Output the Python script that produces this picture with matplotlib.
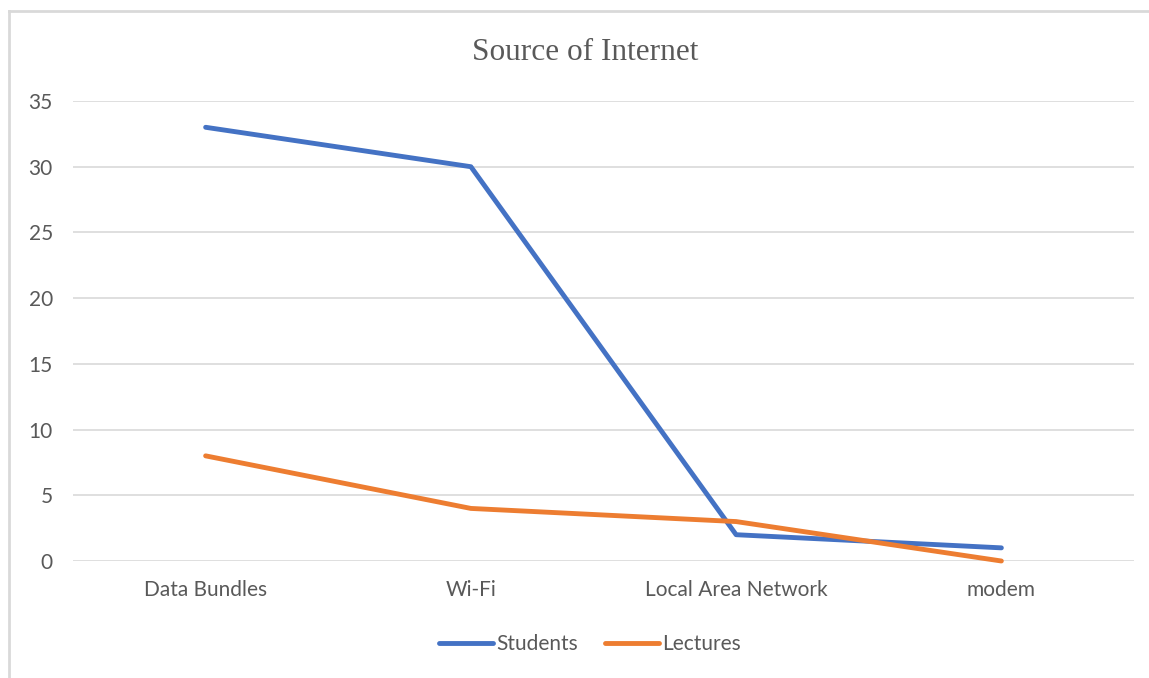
import matplotlib.pyplot as plt
from matplotlib.lines import Line2D

categories = ["Data Bundles", "Wi-Fi", "Local Area Network", "modem"]
students = [33, 30, 2, 1]
lectures = [8, 4, 3, 0]
y_ticks = [0, 5, 10, 15, 20, 25, 30, 35]

BLUE = "#4472C4"
ORANGE = "#ED7D31"
TEXT = "#595959"
GRID = "#D9D9D9"

plt.rcParams["font.family"] = ["Lato", "DejaVu Sans"]

fig = plt.figure(figsize=(11.49, 6.78), dpi=100)
ax = fig.add_axes([73 / 1149, 117 / 678, 1061 / 1149, 460 / 678])

x = range(len(categories))
ax.plot(x, students, color=BLUE, lw=3.5, solid_capstyle="round", label="Students",
        zorder=3, clip_on=False)
ax.plot(x, lectures, color=ORANGE, lw=3.5, solid_capstyle="round", label="Lectures",
        zorder=3, clip_on=False)

ax.set_xlim(-0.5, len(categories) - 0.5)
ax.set_ylim(0, 35)
ax.set_yticks(y_ticks)
ax.set_xticks(list(x))
ax.set_xticklabels(categories)
ax.tick_params(axis="both", length=0, labelsize=15, colors=TEXT)
ax.tick_params(axis="y", pad=14.5)
ax.tick_params(axis="x", pad=14)
ax.grid(axis="y", color=GRID, lw=1.2)
ax.set_axisbelow(True)
for s in ax.spines.values():
    s.set_visible(False)

fig.text(585 / 1149, 1 - 52 / 678, "Source of Internet", ha="center", va="center",
         family="Liberation Serif", fontsize=22.5, color=TEXT)

handles = [Line2D([], [], color=BLUE, lw=3.5, solid_capstyle="round"),
           Line2D([], [], color=ORANGE, lw=3.5, solid_capstyle="round")]
fig.legend(handles, ["Students", "Lectures"], loc="center", bbox_to_anchor=(590 / 1149, 1 - 644 / 678),
           ncol=2, frameon=False, fontsize=15, labelcolor=TEXT, handlelength=2.6,
           handletextpad=0.15, columnspacing=1.3)

# chart frame (only left and top edges show in the crop)
fig.add_artist(Line2D([9 / 1149, 9 / 1149], [0, 1 - 11 / 678], color=GRID, lw=2))
fig.add_artist(Line2D([9 / 1149, 1], [1 - 11 / 678, 1 - 11 / 678], color=GRID, lw=2))

fig.savefig("out.png", dpi=100)
